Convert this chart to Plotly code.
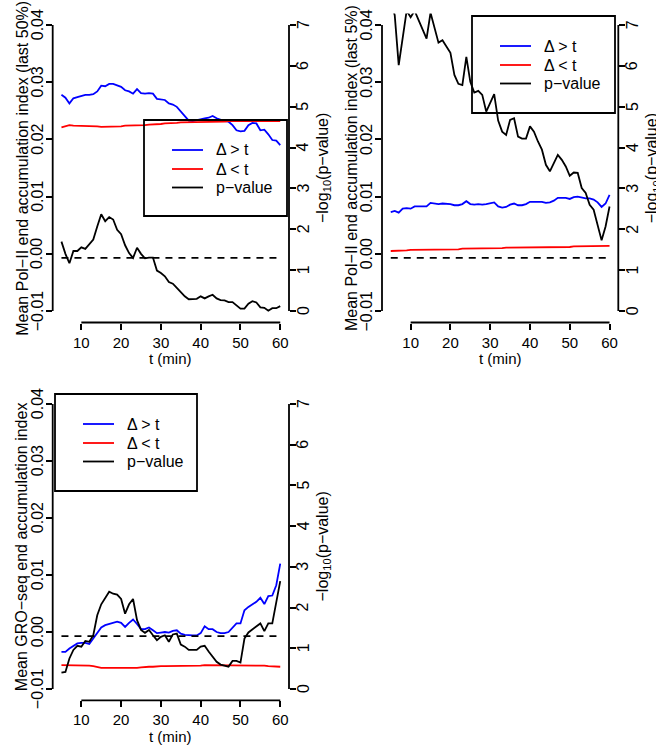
import plotly.graph_objects as go

# ---------------- data ----------------
t = list(range(5, 61))

# Panel 1: Pol-II end accumulation index (last 50%)
a_gt = [0.0278, 0.0273, 0.0263, 0.0272, 0.0274, 0.0276, 0.0278, 0.0278, 0.0279, 0.0284,
        0.0294, 0.0293, 0.0297, 0.0297, 0.0295, 0.0292, 0.0286, 0.0284, 0.0280, 0.0288,
        0.0281, 0.0280, 0.0281, 0.0280, 0.0271, 0.0270, 0.0269, 0.0263, 0.0261, 0.0257,
        0.0249, 0.0240, 0.0233, 0.0232, 0.0234, 0.0235, 0.0237, 0.0238, 0.0241, 0.0237,
        0.0234, 0.0232, 0.0231, 0.0225, 0.0216, 0.0214, 0.0215, 0.0225, 0.0229, 0.0228,
        0.0216, 0.0217, 0.0209, 0.0199, 0.0198, 0.0190]
a_lt = [0.0221, 0.0223, 0.0225, 0.0224, 0.0224, 0.0224, 0.0224, 0.0224, 0.0224, 0.0223,
        0.0222, 0.0222, 0.0222, 0.0222, 0.0222, 0.0223, 0.0224, 0.0224, 0.0225, 0.0225,
        0.0225, 0.0225, 0.0226, 0.0226, 0.0227, 0.0227, 0.0228, 0.0228, 0.0229, 0.0229,
        0.0230, 0.0230, 0.0231, 0.0231, 0.0231, 0.0231, 0.0231, 0.0231, 0.0231, 0.0231,
        0.0231, 0.0231, 0.0232, 0.0232, 0.0232, 0.0232, 0.0232, 0.0232, 0.0232, 0.0232,
        0.0232, 0.0232, 0.0232, 0.0232, 0.0232, 0.0232]
a_p = [1.70, 1.40, 1.17, 1.47, 1.47, 1.56, 1.52, 1.65, 1.75, 2.07,
       2.37, 2.20, 2.30, 2.24, 1.99, 1.88, 1.61, 1.42, 1.30, 1.55,
       1.40, 1.29, 1.31, 1.31, 0.99, 0.93, 0.85, 0.71, 0.67, 0.57,
       0.46, 0.36, 0.29, 0.29, 0.30, 0.36, 0.31, 0.36, 0.40, 0.31,
       0.27, 0.26, 0.22, 0.22, 0.13, 0.06, 0.06, 0.18, 0.24, 0.21,
       0.09, 0.08, 0.01, 0.07, 0.07, 0.12]

# Panel 2: Pol-II end accumulation index (last 5%)
b_gt = [0.0073, 0.0075, 0.0072, 0.0079, 0.0080, 0.0079, 0.0083, 0.0083, 0.0083, 0.0083,
        0.0089, 0.0088, 0.0087, 0.0088, 0.0088, 0.0087, 0.0085, 0.0085, 0.0087, 0.0092,
        0.0087, 0.0086, 0.0087, 0.0086, 0.0087, 0.0088, 0.0090, 0.0083, 0.0081, 0.0082,
        0.0086, 0.0088, 0.0085, 0.0085, 0.0087, 0.0091, 0.0091, 0.0091, 0.0091, 0.0089,
        0.0090, 0.0093, 0.0098, 0.0098, 0.0098, 0.0096, 0.0099, 0.0100, 0.0098, 0.0097,
        0.0097, 0.0095, 0.0090, 0.0082, 0.0088, 0.0103]
b_lt = [0.0005, 0.0005, 0.0006, 0.0006, 0.0006, 0.0007, 0.0007, 0.0007, 0.0007, 0.0007,
        0.0007, 0.0008, 0.0008, 0.0008, 0.0008, 0.0008, 0.0008, 0.0008, 0.0009, 0.0009,
        0.0009, 0.0009, 0.0009, 0.0009, 0.0010, 0.0010, 0.0010, 0.0010, 0.0010, 0.0011,
        0.0011, 0.0011, 0.0011, 0.0011, 0.0011, 0.0011, 0.0011, 0.0012, 0.0012, 0.0012,
        0.0012, 0.0012, 0.0012, 0.0012, 0.0012, 0.0012, 0.0013, 0.0013, 0.0013, 0.0013,
        0.0013, 0.0013, 0.0014, 0.0014, 0.0014, 0.0014]
b_p = [7.60, 7.24, 6.02, 6.63, 7.35, 7.19, 7.35, 7.12, 6.88, 6.67,
       7.30, 6.92, 6.57, 6.63, 6.47, 6.32, 5.78, 5.56, 5.53, 6.22,
       5.61, 5.35, 5.39, 5.29, 4.88, 5.09, 5.31, 4.66, 4.39, 4.31,
       4.68, 4.72, 4.27, 4.22, 4.22, 4.52, 4.39, 4.15, 3.95, 3.58,
       3.42, 3.62, 3.82, 3.70, 3.54, 3.31, 3.39, 3.38, 3.01, 2.89,
       2.60, 2.48, 2.07, 1.73, 2.07, 2.56]

# Panel 3: GRO-seq end accumulation index
c_gt = [-0.0035, -0.0035, -0.0029, -0.0025, -0.0020, -0.0019, -0.0019, -0.0021, -0.0011, 0.0000,
        0.0008, 0.0012, 0.0014, 0.0015, 0.0018, 0.0016, 0.0009, 0.0016, 0.0022, 0.0014,
        0.0005, 0.0005, 0.0008, 0.0003, -0.0002, -0.0001, 0.0000, -0.0001, 0.0002, 0.0003,
        -0.0003, -0.0005, -0.0006, -0.0006, -0.0006, -0.0002, 0.0010, 0.0005, 0.0005, 0.0000,
        -0.0002, -0.0002, 0.0000, 0.0008, 0.0015, 0.0015, 0.0038, 0.0044, 0.0048, 0.0053,
        0.0060, 0.0049, 0.0063, 0.0064, 0.0082, 0.0120]
c_lt = [-0.0058, -0.0058, -0.0058, -0.0058, -0.0058, -0.0059, -0.0058, -0.0059, -0.0060, -0.0062,
        -0.0063, -0.0063, -0.0063, -0.0064, -0.0063, -0.0063, -0.0063, -0.0063, -0.0064, -0.0063,
        -0.0062, -0.0061, -0.0061, -0.0061, -0.0060, -0.0060, -0.0060, -0.0060, -0.0060, -0.0059,
        -0.0059, -0.0059, -0.0059, -0.0059, -0.0059, -0.0059, -0.0058, -0.0058, -0.0058, -0.0058,
        -0.0058, -0.0058, -0.0058, -0.0058, -0.0058, -0.0059, -0.0059, -0.0059, -0.0059, -0.0059,
        -0.0059, -0.0059, -0.0060, -0.0060, -0.0060, -0.0061]
c_p = [0.40, 0.42, 0.75, 0.96, 1.06, 1.04, 1.18, 1.16, 1.32, 1.81,
       2.08, 2.24, 2.39, 2.34, 2.32, 2.21, 1.85, 2.08, 2.21, 1.69,
       1.45, 1.38, 1.45, 1.32, 1.20, 1.28, 1.32, 1.16, 1.34, 1.36,
       1.09, 1.04, 0.96, 0.96, 0.96, 1.04, 1.06, 0.92, 0.79, 0.67,
       0.60, 0.57, 0.55, 0.69, 0.69, 0.65, 1.24, 1.39, 1.47, 1.53,
       1.61, 1.42, 1.61, 1.61, 2.14, 2.65]

p_cut = 1.301          # -log10(0.05)
cut_span = [5, 60]

x_ticks = [10, 20, 30, 40, 50, 60]
left_ticks = [-0.01, 0.0, 0.01, 0.02, 0.03, 0.04]
left_labels = ["\u22120.01", "0.00", "0.01", "0.02", "0.03", "0.04"]
right_ticks = [0, 1, 2, 3, 4, 5, 6, 7]
right_labels = ["0", "1", "2", "3", "4", "5", "6", "7"]
legend_names = ["\u0394 > t", "\u0394 < t", "p\u2212value"]
legend_colors = ["#0000FF", "#FF0000", "black"]

left_titles = ["Mean Pol\u2212II end accumulation index (last 50%)",
               "Mean Pol\u2212II end accumulation index (last 5%)",
               "Mean GRO\u2212seq end accumulation index"]
right_title = "\u2212log<sub>10</sub>(p\u2212value)"
x_title = "t (min)"

series = [(a_gt, a_lt, a_p), (b_gt, b_lt, b_p), (c_gt, c_lt, c_p)]

# ---------------- geometry (pixels) ----------------
W, H = 656, 750
FONT = "Liberation Sans, Arial, sans-serif"
panels = [  # plot-region px: left, right, top, bottom ; legend box px (l, t, r, b)
    dict(l=52.7, r=289.0, t=13.6, b=322.5, box=(144, 120, 287, 216)),
    dict(l=382.0, r=618.3, t=13.6, b=322.5, box=(472, 16, 615, 113)),
    dict(l=52.7, r=289.0, t=392.6, b=700.4, box=(55, 394, 197, 491)),
]
leg_rows = [30, 49, 67.5]      # row offsets inside legend box
leg_line = (28, 59)            # sample line offsets
leg_text = 70                  # text start offset


def px(x):
    return x / W


def py(y):
    return 1 - y / H


fig = go.Figure()
layout = dict(
    width=W, height=H, margin=dict(l=0, r=0, t=0, b=0),
    paper_bgcolor="white", plot_bgcolor="white",
    font=dict(family=FONT, size=15, color="black"),
    showlegend=False,
    shapes=[], annotations=[],
)

LW = 1.8
for i, (pan, (gt, lt, pv)) in enumerate(zip(panels, series)):
    k = i + 1
    xa = "x" if k == 1 else f"x{k}"
    ya = "y" if k == 1 else f"y{2 * k - 1}"
    yb = f"y{2 * k}"

    fig.add_trace(go.Scatter(x=t, y=gt, mode="lines", name=legend_names[0],
                             line=dict(color=legend_colors[0], width=LW), xaxis=xa, yaxis=ya))
    fig.add_trace(go.Scatter(x=t, y=lt, mode="lines", name=legend_names[1],
                             line=dict(color=legend_colors[1], width=LW), xaxis=xa, yaxis=ya))
    fig.add_trace(go.Scatter(x=t, y=pv, mode="lines", name=legend_names[2],
                             line=dict(color=legend_colors[2], width=LW), xaxis=xa, yaxis=yb))
    fig.add_trace(go.Scatter(x=cut_span, y=[p_cut, p_cut], mode="lines", name="p = 0.05",
                             line=dict(color="black", width=LW, dash="7px,6px"),
                             xaxis=xa, yaxis=yb))

    xdom = [px(pan["l"]), px(pan["r"])]
    ydom = [py(pan["b"]), py(pan["t"])]
    xkey = "xaxis" if k == 1 else f"xaxis{k}"
    yakey = "yaxis" if k == 1 else f"yaxis{2 * k - 1}"
    ybkey = f"yaxis{2 * k}"
    common = dict(showgrid=False, zeroline=False, showline=False, ticks="outside",
                  ticklen=6, tickwidth=1.5, tickcolor="black")
    layout[xkey] = dict(domain=xdom, range=[2.8, 62.2], anchor=ya, tickvals=x_ticks,
                        tickfont=dict(size=15), **common)
    layout[yakey] = dict(domain=ydom, range=[-0.012, 0.042], anchor=xa, tickvals=left_ticks,
                         showticklabels=False, **common)
    layout[ybkey] = dict(domain=ydom, range=[-0.28, 7.28], anchor=xa, overlaying=ya, side="right",
                         tickvals=right_ticks, showticklabels=False, **common)

    # R-style axis lines spanning only the tick range
    sh = layout["shapes"]
    sh.append(dict(type="line", xref=xa, yref=f"{ya} domain", x0=10, x1=60, y0=0, y1=0,
                   line=dict(color="black", width=LW)))
    sh.append(dict(type="line", xref=f"{xa} domain", yref=ya, x0=0, x1=0, y0=-0.01, y1=0.04,
                   line=dict(color="black", width=LW)))
    sh.append(dict(type="line", xref=f"{xa} domain", yref=yb, x0=1, x1=1, y0=0, y1=7,
                   line=dict(color="black", width=LW)))

    an = layout["annotations"]
    # rotated (R las=0) y tick labels, positioned through each axis' scale
    for v, lab in zip(left_ticks, left_labels):
        an.append(dict(text=lab, xref="paper", yref=ya, x=px(pan["l"] - 15.5), y=v,
                       textangle=-90, showarrow=False, font=dict(size=16),
                       xanchor="center", yanchor="middle"))
    for v, lab in zip(right_ticks, right_labels):
        an.append(dict(text=lab, xref="paper", yref=yb, x=px(pan["r"] + 14), y=v,
                       textangle=-90, showarrow=False, font=dict(size=16),
                       xanchor="center", yanchor="middle"))

    # legend box with entries
    bx = pan["box"]
    sh.append(dict(type="rect", xref="paper", yref="paper", x0=px(bx[0]), x1=px(bx[2]),
                   y0=py(bx[3]), y1=py(bx[1]), line=dict(color="black", width=LW),
                   fillcolor="rgba(0,0,0,0)"))
    for name, col, dy in zip(legend_names, legend_colors, leg_rows):
        yy = py(bx[1] + dy)
        sh.append(dict(type="line", xref="paper", yref="paper",
                       x0=px(bx[0] + leg_line[0]), x1=px(bx[0] + leg_line[1]), y0=yy, y1=yy,
                       line=dict(color=col, width=LW)))
        an.append(dict(text=name, xref="paper", yref="paper", x=px(bx[0] + leg_text), y=yy,
                       xanchor="left", yanchor="middle", showarrow=False, font=dict(size=16)))

    ymid = py((pan["t"] + pan["b"]) / 2)
    an.append(dict(text=left_titles[i], xref="paper", yref="paper", x=px(pan["l"] - 31),
                   y=ymid, textangle=-90, showarrow=False, font=dict(size=16),
                   xanchor="center", yanchor="middle"))
    an.append(dict(text=right_title, xref="paper", yref="paper", x=px(pan["r"] + 34),
                   y=ymid, textangle=-90, showarrow=False, font=dict(size=16),
                   xanchor="center", yanchor="middle"))
    an.append(dict(text=x_title, xref="paper", yref="paper", x=px((pan["l"] + pan["r"]) / 2),
                   y=py(pan["b"] + 36), showarrow=False, font=dict(size=15),
                   xanchor="center", yanchor="middle"))

fig.update_layout(**layout)
fig.write_html("out.html")
